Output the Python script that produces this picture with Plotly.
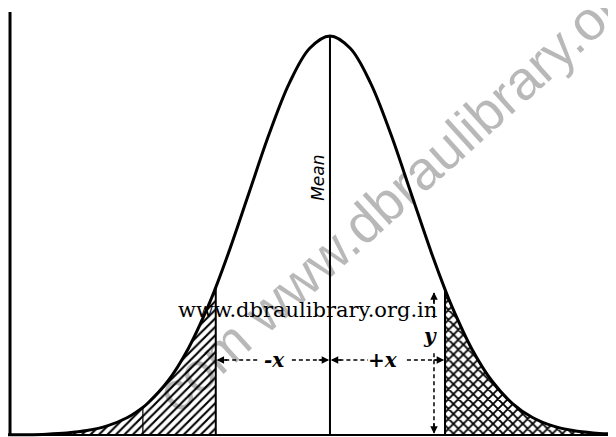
import plotly.graph_objects as go

# ordinates of the curve (peak = 1), abscissa in units of sigma
z_vals = [-4.1, -3.75, -3.5, -3.25, -3.0, -2.75, -2.5, -2.31, -2.25, -2.0, -1.75, -1.5, -1.41,
          -1.25, -1.0, -0.75, -0.5, -0.25, 0.0, 0.25, 0.5, 0.75, 1.0, 1.25, 1.42, 1.5, 1.75,
          2.0, 2.25, 2.5, 2.75, 3.0, 3.25, 3.7]
heights = [0.0002, 0.0009, 0.0022, 0.0051, 0.0111, 0.0228, 0.0439, 0.0694, 0.0796, 0.1353,
           0.2163, 0.3247, 0.370, 0.458, 0.6065, 0.7548, 0.8825, 0.9692, 1.0, 0.9692, 0.8825,
           0.7548, 0.6065, 0.458, 0.3649, 0.3247, 0.2163, 0.1353, 0.0796, 0.0439, 0.0228,
           0.0111, 0.0051, 0.0011]

left_cut = -1.41
right_cut = 1.42
tail_ordinate = -2.31
y_arrow_x = 1.284

left_idx = [i for i, z in enumerate(z_vals) if z <= left_cut]
right_idx = [i for i, z in enumerate(z_vals) if z >= right_cut]

fig = go.Figure()

# shaded tails
fig.add_trace(go.Scatter(
    x=[z_vals[i] for i in left_idx], y=[heights[i] for i in left_idx],
    mode='lines', line=dict(width=0, shape='spline'), fill='tozeroy',
    fillcolor='white',
    fillpattern=dict(shape='/', fgcolor='black', bgcolor='white', size=6, solidity=0.35,
                     fgopacity=1),
    hoverinfo='skip'))
fig.add_trace(go.Scatter(
    x=[z_vals[i] for i in right_idx], y=[heights[i] for i in right_idx],
    mode='lines', line=dict(width=0, shape='spline'), fill='tozeroy',
    fillcolor='white',
    fillpattern=dict(shape='x', fgcolor='black', bgcolor='white', size=7, solidity=0.45,
                     fgopacity=1),
    hoverinfo='skip'))

# the curve
fig.add_trace(go.Scatter(x=z_vals, y=heights, mode='lines',
                         line=dict(color='black', width=3, shape='spline'), hoverinfo='skip'))

# ordinates
h = dict(zip(z_vals, heights))
for zx, w in [(0.0, 2), (left_cut, 2), (right_cut, 2), (tail_ordinate, 1.2)]:
    fig.add_trace(go.Scatter(x=[zx, zx], y=[0, h[zx]], mode='lines',
                             line=dict(color='black', width=w), hoverinfo='skip'))

# base line and left axis
fig.add_trace(go.Scatter(x=[-3.95, 3.7], y=[0, 0], mode='lines',
                         line=dict(color='black', width=2), hoverinfo='skip'))
fig.add_trace(go.Scatter(x=[-3.95, -3.95], y=[0, 1.06], mode='lines',
                         line=dict(color='black', width=3), hoverinfo='skip'))

# dashed arrows for -x, +x and y
arrow_y = 0.188
dashed = [
    ([-1.38, -0.88], [arrow_y, arrow_y]),
    ([-0.47, -0.03], [arrow_y, arrow_y]),
    ([0.03, 0.47], [arrow_y, arrow_y]),
    ([0.95, 1.39], [arrow_y, arrow_y]),
    ([y_arrow_x, y_arrow_x], [0.356, 0.29]),
    ([y_arrow_x, y_arrow_x], [0.205, 0.006]),
]
for xs, ys in dashed:
    fig.add_trace(go.Scatter(x=xs, y=ys, mode='lines',
                             line=dict(color='black', width=1.5, dash='4px,3px'), hoverinfo='skip'))

# the page puts the plot 8px in from the top-left corner, so the ranges are shifted by 8px
fig.update_layout(
    width=616, height=437, margin=dict(l=0, r=0, t=0, b=0),
    paper_bgcolor='white', plot_bgcolor='white', showlegend=False,
    xaxis=dict(range=[-3.975, 3.63], visible=False, fixedrange=True),
    yaxis=dict(range=[-0.025, 1.070], visible=False, fixedrange=True),
)

heads = [(left_cut + 0.01, arrow_y, 12, 0), (-0.01, arrow_y, -12, 0),
         (0.01, arrow_y, 12, 0), (right_cut - 0.01, arrow_y, -12, 0),
         (y_arrow_x, 0.358, 0, 12), (y_arrow_x, 0.003, 0, -12)]
for ax_x, ax_y, dx, dy in heads:
    fig.add_annotation(x=ax_x, y=ax_y, ax=dx, ay=dy, text='', showarrow=True,
                       arrowhead=2, arrowsize=1, arrowwidth=1.5, arrowcolor='black')

serif = 'DejaVu Serif, Liberation Serif, serif'
fig.add_annotation(x=-0.68, y=arrow_y, text='<b><i>-x</i></b>', showarrow=False,
                   font=dict(family=serif, size=20, color='black'))
fig.add_annotation(x=0.66, y=arrow_y, text='<b><i>+x</i></b>', showarrow=False,
                   font=dict(family=serif, size=20, color='black'))
fig.add_annotation(x=y_arrow_x - 0.05, y=0.248, text='<b><i>y</i></b>', showarrow=False,
                   font=dict(family=serif, size=20, color='black'))
fig.add_annotation(x=-0.15, y=0.644, text='<i>Mean</i>', showarrow=False, textangle=-90,
                   font=dict(family='DejaVu Sans, Arial, sans-serif', size=17, color='black'))

# scan watermarks
fig.add_annotation(x=0.636, y=0.583, xref='paper', yref='paper', text='com www.dbraulibrary.org',
                   showarrow=False, textangle=-42,
                   font=dict(family='Liberation Sans, Arial, sans-serif', size=55,
                             color='rgba(0,0,0,0.28)'))
fig.add_annotation(x=-0.28, y=0.313, text='www.dbraulibrary.org.in', showarrow=False,
                   font=dict(family=serif, size=21, color='black'))

fig.write_html("out.html")
